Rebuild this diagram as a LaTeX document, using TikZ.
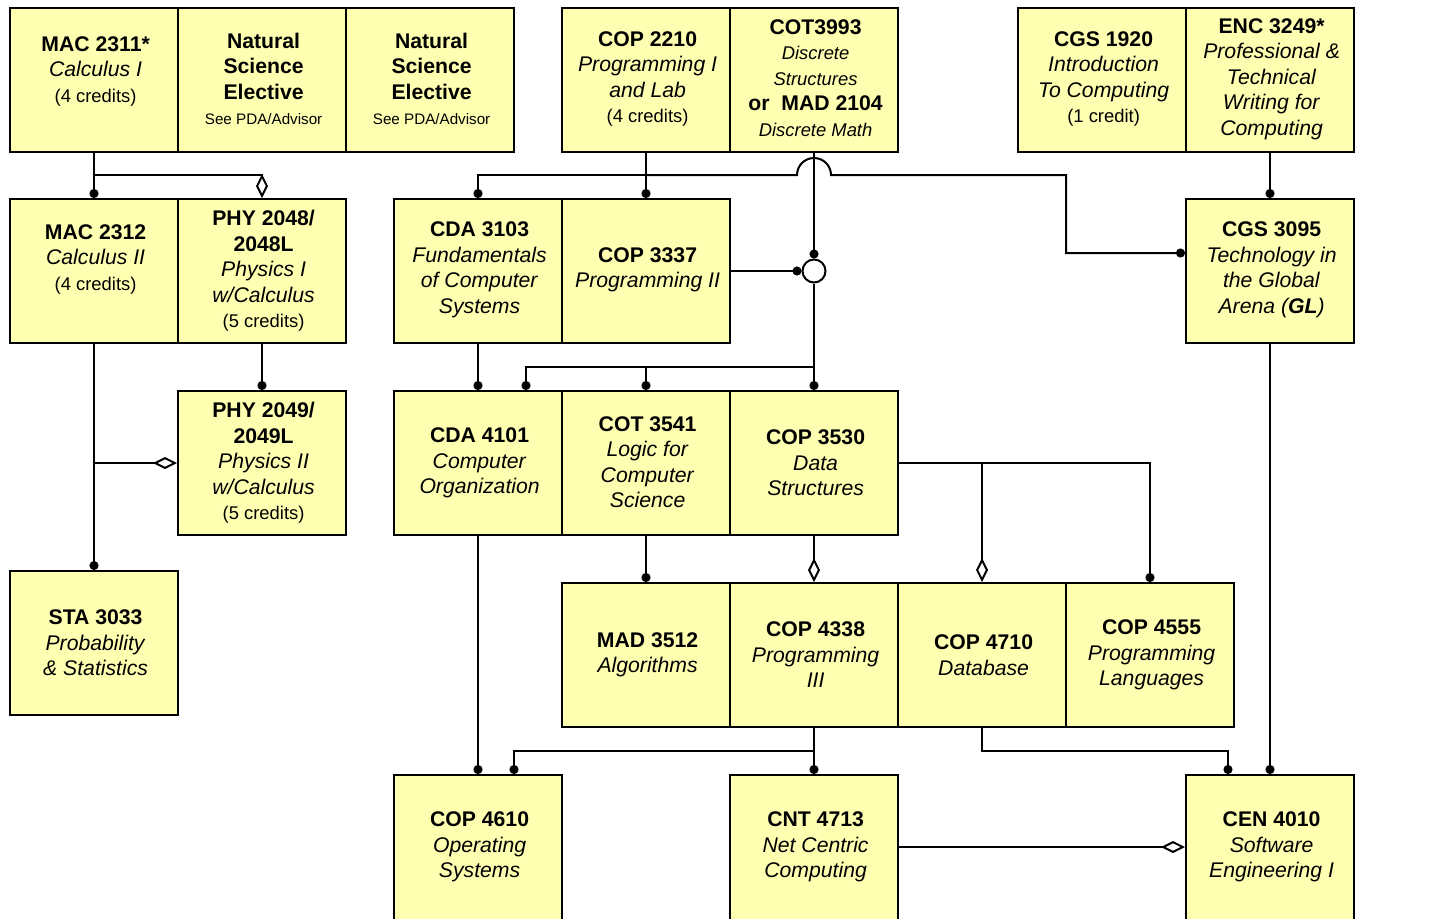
\documentclass[tikz,border=0pt]{standalone}
\usepackage{fontspec}
\setmainfont{Liberation Sans}
\usetikzlibrary{arrows.meta,calc}
\definecolor{boxfill}{RGB}{255,255,178}
\newcommand\crd{\fontsize{9.2}{12.75}\selectfont}
\newcommand\tny{\fontsize{7.6}{12.75}\selectfont}
\newcommand\smi{\fontsize{9.2}{12.75}\selectfont\itshape}
\begin{document}
\begin{tikzpicture}[x=0.5pt,y=-0.5pt,
  box/.style={draw,line width=1pt,fill=boxfill,minimum width=84pt,minimum height=72pt,inner sep=0pt},
  lastbox/.style={box,minimum height=80pt},
  txt/.style={align=center,inner sep=0pt,xshift=0.8pt,font=\fontsize{10.6}{12.75}\selectfont},
  con/.style={line width=1pt},
  dot/.style={con,-{Circle[length=4.5pt,width=4.5pt]}},
  dia/.style={con,-{Diamond[open,length=12pt,width=6pt]}}]
\useasboundingbox (0,0) rectangle (1447,918);
% ---------- boxes ----------
\node[box] (mac2311) at (94,79.5) {};
\node[box] (nse1) at (262,79.5) {};
\node[box] (nse2) at (430,79.5) {};
\node[box] (cop2210) at (646,79.5) {};
\node[box] (cot3993) at (814,79.5) {};
\node[box] (cgs1920) at (1102,79.5) {};
\node[box] (enc3249) at (1270,79.5) {};
\node[box] (mac2312) at (94,271) {};
\node[box] (phy2048) at (262,271) {};
\node[box] (cda3103) at (478,271) {};
\node[box] (cop3337) at (646,271) {};
\node[box] (cgs3095) at (1270,271) {};
\node[box] (phy2049) at (262,463) {};
\node[box] (cda4101) at (478,463) {};
\node[box] (cot3541) at (646,463) {};
\node[box] (cop3530) at (814,463) {};
\node[box] (sta3033) at (94,643) {};
\node[box] (mad3512) at (646,655) {};
\node[box] (cop4338) at (814,655) {};
\node[box] (cop4710) at (982,655) {};
\node[box] (cop4555) at (1150,655) {};
\node[lastbox] (cop4610) at (478,855) {};
\node[lastbox] (cnt4713) at (814,855) {};
\node[lastbox] (cen4010) at (1270,855) {};
% ---------- texts ----------
\node[txt] (t1) at (94,71) {\textbf{MAC 2311*}\\\textit{Calculus I}\\\crd (4 credits)};
\node[txt] (t2) at (262,79) {\textbf{Natural}\\\textbf{Science}\\\textbf{Elective}\\\tny See PDA/Advisor};
\node[txt] (t3) at (430,79) {\textbf{Natural}\\\textbf{Science}\\\textbf{Elective}\\\tny See PDA/Advisor};
\node[txt] (t4) at (646,79) {\textbf{COP 2210}\\\textit{Programming I}\\\textit{and Lab}\\\crd (4 credits)};
\node[txt] (t5) at (814,78) {\textbf{COT3993}\\\smi Discrete\\\smi Structures\\\textbf{or~~MAD 2104}\\\smi Discrete Math};
\node[txt] (t6) at (1102,79) {\textbf{CGS 1920}\\\textit{Introduction}\\\textit{To Computing}\\\crd (1 credit)};
\node[txt] (t7) at (1270,79) {\textbf{ENC 3249*}\\\textit{Professional \&}\\\textit{Technical}\\\textit{Writing for}\\\textit{Computing}};
\node[txt] (t8) at (94,259) {\textbf{MAC 2312}\\\textit{Calculus II}\\\crd (4 credits)};
\node[txt] (t9) at (262,271) {\textbf{PHY 2048/}\\\textbf{2048L}\\\textit{Physics I}\\\textit{w/Calculus}\\\crd (5 credits)};
\node[txt] (t10) at (478,270) {\textbf{CDA 3103}\\\textit{Fundamentals}\\\textit{of Computer}\\\textit{Systems}};
\node[txt] (t11) at (646,270) {\textbf{COP 3337}\\\textit{Programming II}};
\node[txt] (t12) at (1270,270) {\textbf{CGS 3095}\\\textit{Technology in}\\\textit{the Global}\\\textit{Arena (\textbf{GL})}};
\node[txt] (t13) at (262,463) {\textbf{PHY 2049/}\\\textbf{2049L}\\\textit{Physics II}\\\textit{w/Calculus}\\\crd (5 credits)};
\node[txt] (t14) at (478,463) {\textbf{CDA 4101}\\\textit{Computer}\\\textit{Organization}};
\node[txt] (t15) at (646,462) {\textbf{COT 3541}\\\textit{Logic for}\\\textit{Computer}\\\textit{Science}};
\node[txt] (t16) at (814,463) {\textbf{COP 3530}\\\textit{Data}\\\textit{Structures}};
\node[txt] (t17) at (94,643) {\textbf{STA 3033}\\\textit{Probability}\\\textit{\& Statistics}};
\node[txt] (t18) at (646,655) {\textbf{MAD 3512}\\\textit{Algorithms}};
\node[txt] (t19) at (814,655) {\textbf{COP 4338}\\\textit{Programming}\\\textit{III}};
\node[txt] (t20) at (982,655) {\textbf{COP 4710}\\\textit{Database}};
\node[txt] (t21) at (1150,655) {\textbf{COP 4555}\\\textit{Programming}\\\textit{Languages}};
\node[txt] (t22) at (478,847) {\textbf{COP 4610}\\\textit{Operating}\\\textit{Systems}};
\node[txt] (t23) at (814,847) {\textbf{CNT 4713}\\\textit{Net Centric}\\\textit{Computing}};
\node[txt] (t24) at (1270,847) {\textbf{CEN 4010}\\\textit{Software}\\\textit{Engineering I}};
% ---------- junction circle ----------
\node[circle,draw,line width=1pt,fill=white,minimum size=11.5pt,inner sep=0pt] (jc) at (814,271) {};
% ---------- coordinates ----------
\coordinate (jA) at (94,175);
\coordinate (jB) at (94,463);
\coordinate (jC) at (646,175);
\coordinate (hopL) at (797,175);
\coordinate (bendR) at (1066,175);
\coordinate (jD) at (814,367);
\coordinate (jE) at (814,751);
\coordinate (c847) at (0,847);
% ---------- connectors ----------
\draw[dot] (mac2311.south) -- (mac2312.north);
\draw[dia] (jA) -| (phy2048.north);
\draw[dot] (phy2048.south) -- (phy2049.north);
\draw[dot] (mac2312.south) -- (sta3033.north);
\draw[dia] (jB) -- (phy2049.west);
\draw[dot] (cop2210.south) -- (cop3337.north);
\draw[dot] (jC) -| (cda3103.north);
\draw[dot] (jC) -- (hopL) arc[start angle=180,end angle=360,radius=17] -- (bendR) |- ([yshift=9pt]cgs3095.west);
\draw[dot] (cot3993.south) -- (jc.north);
\draw[dot] (cop3337.east) -- (jc.west);
\draw[dot] (jc.south) -- (cop3530.north);
\draw[dot] (jD) -| ([xshift=24pt]cda4101.north);
\draw[dot] (cot3541.north |- jD) -- (cot3541.north);
\draw[dot] (cda3103.south) -- (cda4101.north);
\draw[dot] (enc3249.south) -- (cgs3095.north);
\draw[dot] (cgs3095.south) -- (cen4010.north);
\draw[dot] (cop3530.east) -| (cop4555.north);
\draw[dia] (cop4710.north |- cop3530.east) -- (cop4710.north);
\draw[dia] (cop3530.south) -- (cop4338.north);
\draw[dot] (cot3541.south) -- (mad3512.north);
\draw[dot] (cda4101.south) -- (cop4610.north);
\draw[dot] (cop4338.south) -- (cnt4713.north);
\draw[dot] (jE) -| ([xshift=18pt]cop4610.north);
\draw[dot] (cop4710.south) -- (cop4710.south |- jE) -| ([xshift=-21pt]cen4010.north);
\draw[dia] (cnt4713.east |- c847) -- (cen4010.west |- c847);
\end{tikzpicture}
\end{document}
